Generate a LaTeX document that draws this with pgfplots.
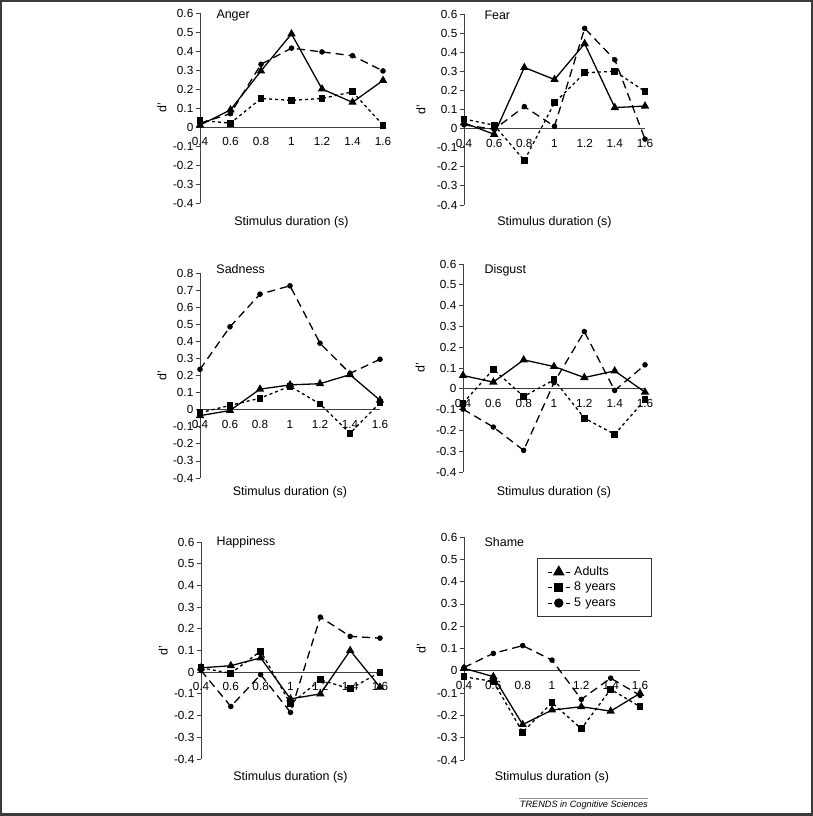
\documentclass[border=0pt]{standalone}
\usepackage{pgfplots}
\pgfplotsset{compat=1.18}
\usepackage{fontspec}
\setmainfont{Liberation Sans}

\definecolor{framecol}{HTML}{3C3C3C}

\pgfplotsset{
  panel/.style={
    scale only axis, anchor=south west, clip=false,
    xmin=0.4, xmax=1.6, ymin=-0.4,
    axis x line*=middle, axis y line*=left,
    axis line style={line width=0.8bp, black!75},
    xtick={0.4,0.6,0.8,1,1.2,1.4,1.6},
    hide obscured x ticks=false, hide obscured y ticks=false,
    tick align=outside, major tick length=4.5bp,
    xtick style={draw=none},
    ytick style={line width=0.8bp, black!75},
    tick label style={font=\fontsize{11.8}{13}\selectfont},
    xticklabel style={yshift=-2.5bp},
    yticklabel style={inner xsep=2bp},
    /pgf/number format/assume math mode=true,
    /pgf/number format/fixed, /pgf/number format/precision=1,
    xlabel={Stimulus duration (s)}, ylabel={d'},
    label style={font=\fontsize{12.5}{14}\selectfont},
    xlabel style={anchor=center},
    ylabel style={anchor=center},
  },
  adult/.style={black, solid, line width=1.3bp, mark=triangle*, mark size=3.6bp, mark options={solid},
    legend image code/.code={
      \draw[solid, mark=none, line width=0.9bp] (0bp,0bp) -- (4bp,0bp) (18bp,0bp) -- (22bp,0bp);
      \draw[solid, mark size=5.5bp] plot coordinates {(11bp,0bp)};}},
  eight/.style={black, dash pattern=on 3bp off 3bp, line width=1.3bp, mark=square*, mark size=2.8bp, mark options={solid},
    legend image code/.code={
      \draw[solid, mark=none, line width=0.9bp] (0bp,0bp) -- (4bp,0bp) (18bp,0bp) -- (22bp,0bp);
      \draw[solid, mark size=4bp] plot coordinates {(11bp,0bp)};}},
  five/.style={black, dash pattern=on 8bp off 5bp, line width=1.3bp, mark=*, mark size=2.1bp, mark options={solid},
    legend image code/.code={
      \draw[solid, mark=none, line width=0.9bp] (0bp,0bp) -- (4bp,0bp) (18bp,0bp) -- (22bp,0bp);
      \draw[solid, mark size=4bp] plot coordinates {(11bp,0bp)};}},
}

\newcommand\ptitle[3]{\node[anchor=west, font=\fontsize{12.5}{14}\selectfont] at (axis description cs:#1,#2) {#3};}

\begin{document}
\begin{tikzpicture}
\useasboundingbox (0,0) rectangle (813bp,816bp);
\draw[framecol, line width=2bp] (1bp,1.5bp) rectangle (811.5bp,815bp);

% Anger
\begin{axis}[panel, at={(200bp,613bp)}, width=183bp, height=190bp, ymax=0.6,
  ytick={-0.4,-0.3,...,0.6},
  xlabel style={at={(axis description cs:0.5,-0.1)}},
  ylabel style={at={(axis description cs:-0.208,0.5)}}]
  \addplot[eight] coordinates {(0.4,0.035) (0.6,0.02) (0.8,0.15) (1,0.14) (1.2,0.15) (1.4,0.185) (1.6,0.01)};
  \addplot[five] coordinates {(0.4,0.02) (0.6,0.07) (0.8,0.33) (1,0.415) (1.2,0.395) (1.4,0.375) (1.6,0.295)};
  \addplot[adult] coordinates {(0.4,0.01) (0.6,0.09) (0.8,0.295) (1,0.49) (1.2,0.2) (1.4,0.13) (1.6,0.245)};
  \ptitle{0.071}{0.989}{Anger}
\end{axis}

% Fear
\begin{axis}[panel, at={(464bp,611bp)}, width=181bp, height=191bp, ymax=0.6,
  ytick={-0.4,-0.3,...,0.6},
  xlabel style={at={(axis description cs:0.5,-0.089)}},
  ylabel style={at={(axis description cs:-0.238,0.5)}}]
  \addplot[eight] coordinates {(0.4,0.05) (0.6,0.018) (0.8,-0.167) (1,0.135) (1.2,0.292) (1.4,0.3) (1.6,0.194)};
  \addplot[five] coordinates {(0.4,0.02) (0.6,-0.004) (0.8,0.115) (1,0.012) (1.2,0.525) (1.4,0.36) (1.6,-0.055)};
  \addplot[adult] coordinates {(0.4,0.03) (0.6,-0.03) (0.8,0.32) (1,0.257) (1.2,0.445) (1.4,0.11) (1.6,0.118)};
  \ptitle{0.094}{0.995}{Fear}
\end{axis}

% Sadness
\begin{axis}[panel, at={(200bp,338bp)}, width=180bp, height=205bp, ymax=0.8,
  ytick={-0.4,-0.3,...,0.8},
  xlabel style={at={(axis description cs:0.5,-0.068)}},
  ylabel style={at={(axis description cs:-0.211,0.5)}}]
  \addplot[eight] coordinates {(0.4,-0.018) (0.6,0.025) (0.8,0.067) (1,0.137) (1.2,0.033) (1.4,-0.138) (1.6,0.04)};
  \addplot[five] coordinates {(0.4,0.236) (0.6,0.485) (0.8,0.676) (1,0.725) (1.2,0.389) (1.4,0.212) (1.6,0.295)};
  \addplot[adult] coordinates {(0.4,-0.035) (0.6,-0.005) (0.8,0.12) (1,0.145) (1.2,0.152) (1.4,0.205) (1.6,0.055)};
  \ptitle{0.072}{1.02}{Sadness}
\end{axis}

% Disgust
\begin{axis}[panel, at={(463bp,344bp)}, width=182bp, height=208bp, ymax=0.6,
  ytick={-0.4,-0.3,...,0.6},
  xlabel style={at={(axis description cs:0.5,-0.096)}},
  ylabel style={at={(axis description cs:-0.236,0.5)}}]
  \addplot[eight] coordinates {(0.4,-0.069) (0.6,0.094) (0.8,-0.037) (1,0.043) (1.2,-0.141) (1.4,-0.219) (1.6,-0.053)};
  \addplot[five] coordinates {(0.4,-0.098) (0.6,-0.184) (0.8,-0.296) (1,0.03) (1.2,0.275) (1.4,-0.008) (1.6,0.115)};
  \addplot[adult] coordinates {(0.4,0.064) (0.6,0.032) (0.8,0.139) (1,0.107) (1.2,0.054) (1.4,0.086) (1.6,-0.016)};
  \ptitle{0.099}{0.971}{Disgust}
\end{axis}

% Happiness
\begin{axis}[panel, at={(201bp,57bp)}, width=179bp, height=217bp, ymax=0.6,
  ytick={-0.4,-0.3,...,0.6},
  xlabel style={at={(axis description cs:0.5,-0.083)}},
  ylabel style={at={(axis description cs:-0.212,0.5)}}]
  \addplot[eight] coordinates {(0.4,0.02) (0.6,-0.005) (0.8,0.097) (1,-0.146) (1.2,-0.035) (1.4,-0.077) (1.6,0.0)};
  \addplot[five] coordinates {(0.4,0.008) (0.6,-0.158) (0.8,-0.011) (1,-0.185) (1.2,0.254) (1.4,0.165) (1.6,0.157)};
  \addplot[adult] coordinates {(0.4,0.02) (0.6,0.03) (0.8,0.066) (1,-0.123) (1.2,-0.1) (1.4,0.1) (1.6,-0.069)};
  \ptitle{0.067}{1.0}{Happiness}
\end{axis}

% Shame
\begin{axis}[panel, at={(464bp,56bp)}, width=176bp, height=223bp, ymax=0.6,
  ytick={-0.4,-0.3,...,0.6},
  xlabel style={at={(axis description cs:0.5,-0.076)}},
  ylabel style={at={(axis description cs:-0.244,0.5)}},
  legend style={at={(axis description cs:0.415,0.906)}, anchor=north west,
    draw=black!80, line width=0.6bp, fill=white,
    font=\fontsize{12.5}{14}\selectfont,
    inner xsep=10bp, inner ysep=6bp,
    nodes={inner xsep=1.5bp, inner ysep=1.5bp, text height=9.5bp, text depth=3bp, text width=66bp},
    /tikz/every odd column/.append style={column sep=2.5bp}},
  legend cell align=left]
  \addplot[adult] coordinates {(0.4,0.011) (0.6,-0.026) (0.8,-0.241) (1,-0.176) (1.2,-0.161) (1.4,-0.181) (1.6,-0.101)};
  \addlegendentry{Adults}
  \addplot[eight] coordinates {(0.4,-0.027) (0.6,-0.048) (0.8,-0.275) (1,-0.143) (1.2,-0.26) (1.4,-0.083) (1.6,-0.161)};
  \addlegendentry{8 years}
  \addplot[five] coordinates {(0.4,0.015) (0.6,0.078) (0.8,0.113) (1,0.048) (1.2,-0.128) (1.4,-0.033) (1.6,-0.11)};
  \addlegendentry{5 years}
  \ptitle{0.097}{0.978}{Shame}
\end{axis}

\draw[black!45, line width=0.8bp] (519bp,18bp) -- (648bp,18bp);
\node[anchor=base east, inner sep=0pt, font=\fontsize{9.2}{11}\selectfont\itshape] at (648bp,9bp) {TRENDS in Cognitive Sciences};
\end{tikzpicture}
\end{document}
